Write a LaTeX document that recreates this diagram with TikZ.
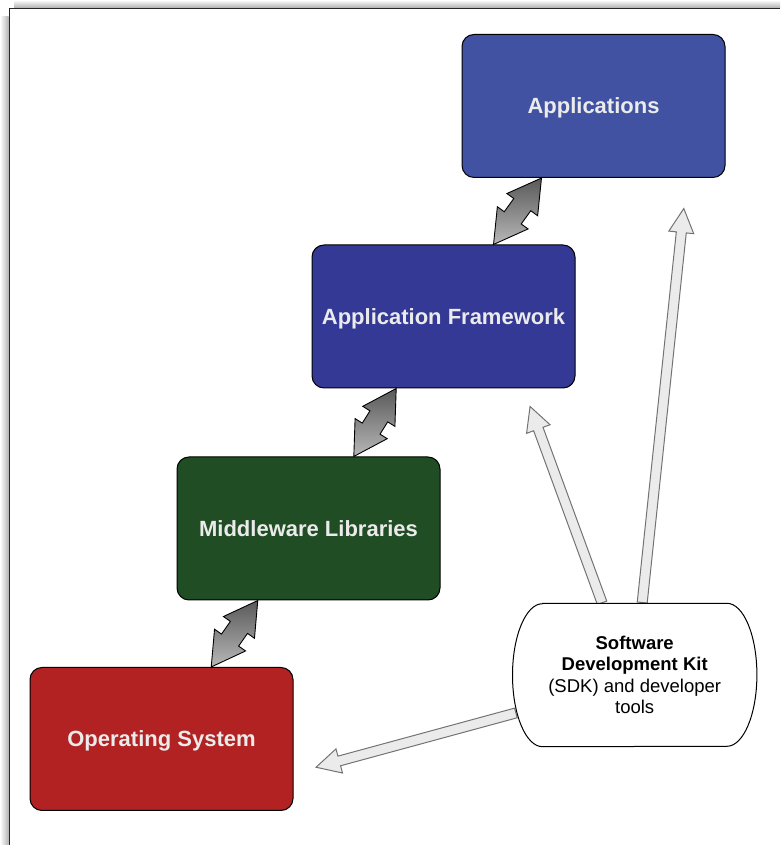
\documentclass[tikz,border=0pt]{standalone}
\usepackage{fontspec}
\setmainfont{Liberation Sans}
\usetikzlibrary{shapes.arrows,calc,backgrounds}
\definecolor{appblue}{RGB}{64,82,161}
\definecolor{fwblue}{RGB}{51,57,148}
\definecolor{mwgreen}{RGB}{33,77,37}
\definecolor{osred}{RGB}{178,34,35}
\begin{document}
\begin{tikzpicture}[x=1pt,y=1pt,
		layerbox/.style={draw=black, line width=1pt, rounded corners=12pt, minimum width=263pt, minimum height=143pt, text depth=0pt, text=black!8, font=\fontsize{22}{26}\selectfont\bfseries},
		sdkbox/.style={minimum width=244pt, minimum height=143pt, align=center, font=\fontsize{18.5}{21.5}\selectfont},
		fatarrow/.style={double arrow, draw=black, line width=0.9pt, top color=black!65, bottom color=black!28, inner xsep=0pt, inner ysep=10pt, double arrow head extend=8.5pt, double arrow tip angle=60, outer sep=0pt},
		toolarrow/.style={single arrow, draw=black!55, line width=1pt, fill=black!8, inner xsep=0pt, inner ysep=4.5pt, single arrow head extend=7.5pt, single arrow tip angle=55, outer sep=0pt, allow upside down}]
	\useasboundingbox (0,0) rectangle (780,845);
	\shade[left color=white, right color=black!30] (0,0) rectangle (8.7,828);
	\shade[top color=white, bottom color=black!30] (14,845) rectangle (780,837.3);
	\draw[line width=1.4pt, black!85] (9.5,0) -- (9.5,836.5) -- (780,836.5);
	\node[layerbox, fill=appblue] (app) at (593.5,739) {Applications};
	\node[layerbox, fill=fwblue] (fw) at (443.5,528.5) {Application Framework};
	\node[layerbox, fill=mwgreen] (mw) at (308.5,316.5) {Middleware Libraries};
	\node[layerbox, fill=osred] (os) at (161.5,106) {Operating System};
	\node[sdkbox] (sdk) at (634.7,170) {\textbf{Software}\\\textbf{Development Kit}\\(SDK) and developer\\tools};
	\coordinate (apptip) at (683.3,631.7);
	\coordinate (fwtip) at (531.7,434);
	\coordinate (ostip) at (320.7,79);
	\begin{scope}[on background layer]
		\path let \p1=($(fw.north west)+(182,0)$), \p2=($(app.south west)+(80,0)$), \n1={veclen(\x2-\x1,\y2-\y1)} in (\p1) -- node[fatarrow, sloped, minimum height=\n1] {} (\p2);
		\path let \p1=($(mw.north west)+(177.3,0)$), \p2=($(fw.south west)+(84.7,0)$), \n1={veclen(\x2-\x1,\y2-\y1)} in (\p1) -- node[fatarrow, sloped, minimum height=\n1] {} (\p2);
		\path let \p1=($(os.north west)+(181.7,0)$), \p2=($(mw.south west)+(81.3,0)$), \n1={veclen(\x2-\x1,\y2-\y1)} in (\p1) -- node[fatarrow, sloped, minimum height=\n1] {} (\p2);
		\path let \p1=($(sdk.north)+(7,-4)$), \p2=(apptip), \n1={veclen(\x2-\x1,\y2-\y1)} in (\p1) -- node[toolarrow, sloped, minimum height=\n1] {} (\p2);
		\path let \p1=($(sdk.north)+(-31,-4)$), \p2=(fwtip), \n1={veclen(\x2-\x1,\y2-\y1)} in (\p1) -- node[toolarrow, sloped, minimum height=\n1] {} (\p2);
		\path let \p1=($(sdk.west)+(8,-36.7)$), \p2=(ostip), \n1={veclen(\x2-\x1,\y2-\y1)} in (\p1) -- node[toolarrow, sloped, minimum height=\n1] {} (\p2);
		\filldraw[fill=white, draw=black, line width=1pt] ($(sdk.north west)+(30,0)$) -- ($(sdk.north east)+(-30,0)$) arc[start angle=90, end angle=-90, x radius=30, y radius=71.5] -- ($(sdk.south west)+(30,0)$) arc[start angle=270, end angle=90, x radius=30, y radius=71.5] -- cycle;
	\end{scope}
\end{tikzpicture}
\end{document}
